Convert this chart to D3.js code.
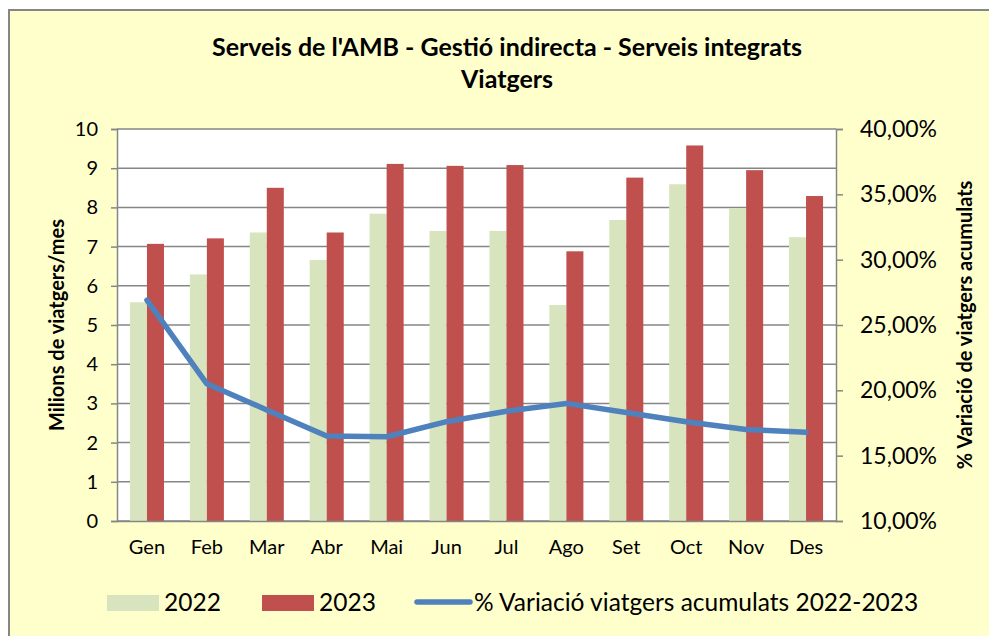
<!DOCTYPE html>
<html>
<head>
<meta charset="utf-8">
<script src="https://cdn.jsdelivr.net/npm/d3@7"></script>
<style>
  body { margin: 0; background: #fff; }
  svg { display: block; font-family: Lato, "Open Sans", sans-serif; }
</style>
</head>
<body>
<svg id="canvas" width="989" height="636"></svg>
<script>
// Data
const months = ['Gen', 'Feb', 'Mar', 'Abr', 'Mai', 'Jun', 'Jul', 'Ago', 'Set', 'Oct', 'Nov', 'Des'];
const years = ['2022', '2023'];
const values2022 = [5.58, 6.29, 7.36, 6.66, 7.84, 7.40, 7.40, 5.51, 7.68, 8.59, 7.98, 7.24];
const values2023 = [7.07, 7.21, 8.50, 7.36, 9.11, 9.06, 9.08, 6.88, 8.76, 9.58, 8.95, 8.29];
const variation = [26.9, 20.5, 18.5, 16.5, 16.45, 17.6, 18.4, 19.0, 18.3, 17.6, 17.0, 16.8];
const leftTicks = [0, 1, 2, 3, 4, 5, 6, 7, 8, 9, 10];
const rightTicks = [10, 15, 20, 25, 30, 35, 40];

// Layout
const width = 989;
const height = 636;
const plot = { left: 117, right: 836, top: 129, bottom: 521 };

const colors = { '2022': '#D7E4BD', '2023': '#C0504D', line: '#4F81BD', grid: '#868686' };

const svg = d3.select('#canvas');

// Chart area frame
svg.append('rect')
    .attr('x', 9).attr('y', 10)
    .attr('width', width + 20).attr('height', height + 20)
    .attr('fill', '#FFFFCC')
    .attr('stroke', '#868686')
    .attr('stroke-width', 2);

// Title
const title = svg.append('text')
    .attr('text-anchor', 'middle')
    .attr('font-weight', 'bold')
    .attr('font-size', 25)
    .attr('fill', '#000');
title.append('tspan').attr('x', 507).attr('y', 56).text("Serveis de l'AMB - Gestió indirecta - Serveis integrats");
title.append('tspan').attr('x', 507).attr('y', 88).text('Viatgers');

// Scales
const x = d3.scaleBand().domain(months).range([plot.left, plot.right]);
const xInner = d3.scaleBand().domain(years).range([0, x.bandwidth()]).paddingOuter(0.76);
const y = d3.scaleLinear().domain([0, 10]).range([plot.bottom, plot.top]);
const y2 = d3.scaleLinear().domain([10, 40]).range([plot.bottom, plot.top]);

// Plot background
svg.append('rect')
    .attr('x', plot.left).attr('y', plot.top)
    .attr('width', plot.right - plot.left).attr('height', plot.bottom - plot.top)
    .attr('fill', '#fff');

// Gridlines
svg.append('g')
    .selectAll('line')
    .data(leftTicks)
    .join('line')
    .attr('x1', plot.left).attr('x2', plot.right)
    .attr('y1', d => y(d)).attr('y2', d => y(d))
    .attr('stroke', colors.grid)
    .attr('stroke-width', 1.5);

// Bars
const series = [
    { year: '2022', values: values2022 },
    { year: '2023', values: values2023 }
];

series.forEach(s => {
    svg.append('g')
        .selectAll('rect')
        .data(s.values)
        .join('rect')
        .attr('x', (d, i) => x(months[i]) + xInner(s.year))
        .attr('y', d => y(d))
        .attr('width', xInner.bandwidth())
        .attr('height', d => y(0) - y(d))
        .attr('fill', colors[s.year]);
});

// Left axis
const leftAxis = svg.append('g')
    .attr('transform', `translate(${plot.left},0)`)
    .call(d3.axisLeft(y).tickValues(leftTicks).tickSize(6).tickPadding(13).tickFormat(d3.format('d')));
leftAxis.select('.domain').attr('stroke', colors.grid).attr('stroke-width', 1.5);
leftAxis.selectAll('.tick line').attr('stroke', colors.grid).attr('stroke-width', 1.5);
leftAxis.selectAll('.tick text')
    .attr('font-family', 'Lato, sans-serif')
    .attr('font-size', 20)
    .attr('fill', '#000');

// Right axis
const pctFormat = d => d3.format('.2f')(d).replace('.', ',') + '%';
const rightAxis = svg.append('g')
    .attr('transform', `translate(${plot.right},0)`)
    .call(d3.axisRight(y2).tickValues(rightTicks).tickSize(7).tickPadding(17).tickFormat(pctFormat));
rightAxis.select('.domain').attr('stroke', colors.grid).attr('stroke-width', 1.5);
rightAxis.selectAll('.tick line').attr('stroke', colors.grid).attr('stroke-width', 1.5);
rightAxis.selectAll('.tick text')
    .attr('font-family', 'Lato, sans-serif')
    .attr('font-size', 23)
    .attr('fill', '#000');

// Bottom axis
const bottomAxis = svg.append('g')
    .attr('transform', `translate(0,${plot.bottom})`)
    .call(d3.axisBottom(x).tickSize(0).tickPadding(19));
bottomAxis.select('.domain').attr('stroke', colors.grid).attr('stroke-width', 1.5);
bottomAxis.selectAll('.tick text')
    .attr('font-family', 'Lato, sans-serif')
    .attr('font-size', 20)
    .attr('fill', '#000');

// Variation line
const line = d3.line()
    .x((d, i) => x(months[i]) + x.bandwidth() / 2)
    .y(d => y2(d));

svg.append('path')
    .datum(variation)
    .attr('d', line)
    .attr('fill', 'none')
    .attr('stroke', colors.line)
    .attr('stroke-width', 5.5)
    .attr('stroke-linejoin', 'round')
    .attr('stroke-linecap', 'round');

// Axis titles
svg.append('text')
    .attr('transform', `translate(64,${(plot.top + plot.bottom) / 2}) rotate(-90)`)
    .attr('text-anchor', 'middle')
    .attr('font-weight', 'bold')
    .attr('font-size', 20)
    .text('Milions de viatgers/mes');

svg.append('text')
    .attr('transform', `translate(972,${(plot.top + plot.bottom) / 2}) rotate(-90)`)
    .attr('text-anchor', 'middle')
    .attr('font-weight', 'bold')
    .attr('font-size', 20)
    .text('% Variació de viatgers acumulats');

// Legend
const legend = svg.append('g').attr('font-size', 24.5);

legend.append('rect').attr('x', 107).attr('y', 595).attr('width', 52).attr('height', 16).attr('fill', colors['2022']);
legend.append('text').attr('x', 164).attr('y', 611).text('2022');

legend.append('rect').attr('x', 262).attr('y', 595).attr('width', 52).attr('height', 16).attr('fill', colors['2023']);
legend.append('text').attr('x', 319).attr('y', 611).text('2023');

legend.append('line')
    .attr('x1', 417).attr('x2', 470)
    .attr('y1', 602).attr('y2', 602)
    .attr('stroke', colors.line)
    .attr('stroke-width', 5.5)
    .attr('stroke-linecap', 'round');
legend.append('text').attr('x', 474).attr('y', 611).text('% Variació viatgers acumulats 2022-2023');
</script>
</body>
</html>
